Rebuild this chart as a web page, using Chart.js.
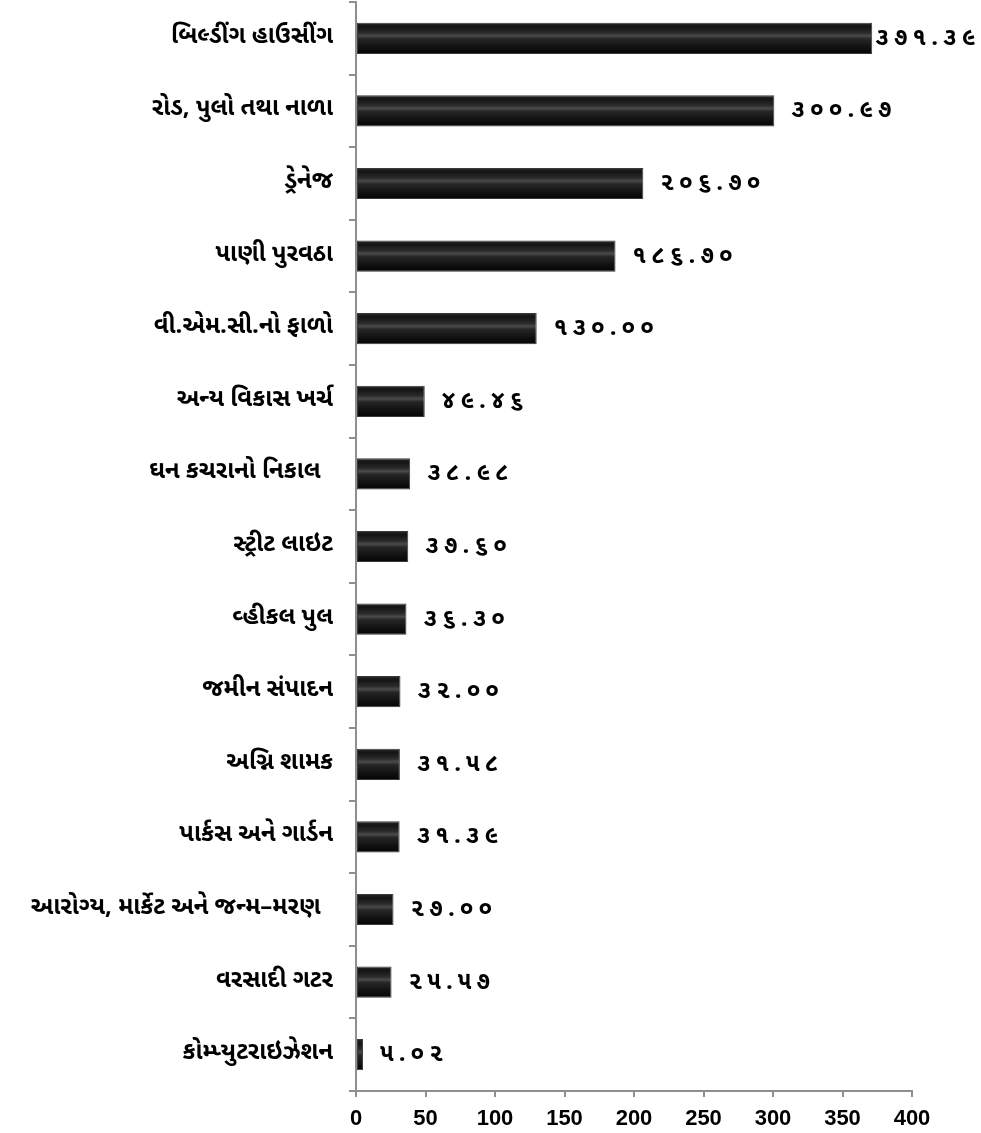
<!DOCTYPE html>
<html>
<head>
<meta charset="utf-8">
<script src="https://cdn.jsdelivr.net/npm/chart.js@4.4.1/dist/chart.umd.min.js"></script>
<style>
  html, body { margin: 0; padding: 0; background: #fff; }
  #wrap { width: 981px; height: 1133px; position: relative; }
</style>
</head>
<body>
<div id="wrap"><canvas id="c"></canvas></div>
<script>
// Development expenditure heads (Rs. in crore)
const categories = [
  'બિલ્ડીંગ હાઉસીંગ',
  'રોડ, પુલો તથા નાળા',
  'ડ્રેનેજ',
  'પાણી પુરવઠા',
  'વી.એમ.સી.નો ફાળો',
  'અન્ય વિકાસ ખર્ચ',
  'ઘન કચરાનો નિકાલ  ',
  'સ્ટ્રીટ લાઇટ',
  'વ્હીકલ પુલ',
  'જમીન સંપાદન',
  'અગ્નિ શામક',
  'પાર્કસ અને ગાર્ડન',
  'આરોગ્ય, માર્કેટ અને જન્મ–મરણ  ',
  'વરસાદી ગટર',
  'કોમ્પ્યુટરાઇઝેશન'
];
const amounts = [371.39, 300.97, 206.70, 186.70, 130.00, 49.46, 38.98, 37.60, 36.30, 32.00, 31.58, 31.39, 27.00, 25.57, 5.02];
const xTicks = [0, 50, 100, 150, 200, 250, 300, 350, 400];

const gujDigits = '૦૧૨૩૪૫૬૭૮૯';
const toGujarati = s => String(s).replace(/[0-9]/g, d => gujDigits[+d]);

const GU_FONT = '"Noto Sans Gujarati", "Lohit Gujarati", "Shruti", "Noto Sans", sans-serif';
const BAR_FRAC = 0.43;

function barFill(ctx) {
  const chart = ctx.chart;
  const ys = chart.scales && chart.scales.y;
  if (!ys || !chart.chartArea) return '#111';
  const yc = ys.getPixelForValue(ctx.dataIndex);
  const half = Math.abs(ys.getPixelForValue(1) - ys.getPixelForValue(0)) * BAR_FRAC / 2;
  const g = chart.ctx.createLinearGradient(0, yc - half, 0, yc + half);
  g.addColorStop(0, '#2c2c2c');
  g.addColorStop(0.12, '#141414');
  g.addColorStop(0.32, '#2a2a2a');
  g.addColorStop(0.42, '#4a4a4a');
  g.addColorStop(0.52, '#262626');
  g.addColorStop(0.8, '#101010');
  g.addColorStop(1, '#050505');
  return g;
}

// Value labels drawn after each bar; a label that would run off the canvas
// is pulled back towards the bar end, but never onto the bar itself
const valueLabels = {
  id: 'valueLabels',
  afterDatasetsDraw(chart) {
    const ctx = chart.ctx;
    const meta = chart.getDatasetMeta(0);
    ctx.save();
    ctx.font = 'bold 24px ' + GU_FONT;
    ctx.letterSpacing = '5px';
    ctx.fillStyle = '#000';
    ctx.textBaseline = 'middle';
    ctx.textAlign = 'left';
    const rightLimit = chart.width - 6;
    meta.data.forEach((bar, i) => {
      const txt = toGujarati(amounts[i].toFixed(2));
      const w = ctx.measureText(txt).width;
      let x = bar.x + 17;
      if (x + w > rightLimit) x = Math.max(bar.x + 3, rightLimit - w);
      ctx.fillText(txt, x, bar.y + 2);
    });
    ctx.restore();
  }
};

new Chart(document.getElementById('c'), {
  type: 'bar',
  data: {
    labels: categories,
    datasets: [{
      data: amounts,
      backgroundColor: barFill,
      borderColor: '#3a3a3a',
      borderWidth: 1,
      borderSkipped: false,
      barPercentage: BAR_FRAC,
      categoryPercentage: 1
    }]
  },
  options: {
    indexAxis: 'y',
    responsive: true,
    maintainAspectRatio: false,
    animation: false,
    layout: { padding: { top: 2, right: 69, bottom: 0, left: 0 } },
    plugins: { legend: { display: false }, tooltip: { enabled: false } },
    scales: {
      x: {
        min: 0, max: 400,
        afterBuildTicks: s => { s.ticks = xTicks.map(v => ({ value: v })); },
        afterFit: s => { s.height = 42; s.paddingLeft = 0; s.paddingRight = 0; },
        border: { color: '#8f8f8f', width: 2 },
        grid: { drawOnChartArea: false, tickLength: 6, color: '#8f8f8f', lineWidth: 2 },
        ticks: {
          color: '#000',
          padding: 9,
          font: { family: '"Liberation Sans", Arial, sans-serif', size: 22, weight: 'bold' }
        }
      },
      y: {
        afterFit: s => { s.width = 356; s.paddingTop = 0; s.paddingBottom = 0; },
        border: { color: '#8f8f8f', width: 2 },
        grid: { drawOnChartArea: false, tickLength: 7, color: '#8f8f8f', lineWidth: 2, offset: true },
        ticks: {
          color: '#000',
          padding: 16,
          autoSkip: false,
          font: { family: GU_FONT, size: 24, weight: 'bold' }
        }
      }
    }
  },
  plugins: [valueLabels]
});
</script>
</body>
</html>
